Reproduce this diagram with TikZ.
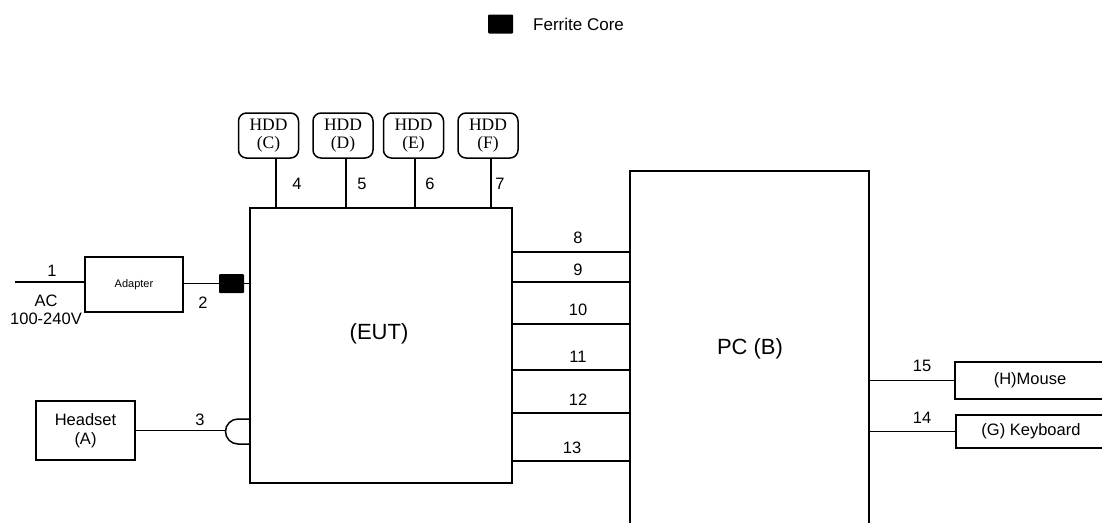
\documentclass[tikz,border=0pt]{standalone}
\usepackage{fontspec}
\setmainfont{Liberation Sans}
\newfontfamily\hddfont{Liberation Serif}

\begin{document}
\begin{tikzpicture}[
    x=1pt, y=-1pt,
    box/.style={
        rectangle,
        draw=black,
        line width=1.5pt,
        fill=white,
        inner sep=0pt,
        align=center,
        font=\fontsize{16.5}{19.5}\selectfont
    },
    hddbox/.style={
        box,
        rounded corners=8pt,
        minimum width=60pt,
        minimum height=45pt,
        font=\hddfont\fontsize{17.5}{18}\selectfont
    },
    ferrite/.style={
        rectangle,
        fill=black,
        inner sep=0pt,
        minimum width=25pt,
        minimum height=19pt,
        rounded corners=1pt
    },
    num/.style={inner sep=0pt, font=\fontsize{16.5}{19}\selectfont},
    big/.style={inner sep=0pt, font=\fontsize{22}{26}\selectfont},
    wire/.style={line width=1.5pt}
]

\useasboundingbox (0,0) rectangle (1102,522);
\clip (0,0) rectangle (1102,522);

% Legend
\node[ferrite] (legend) at (500.5,24) {};
\node[num, anchor=west, font=\fontsize{17}{20}\selectfont] (legendtxt) at (533,24) {Ferrite Core};

% Main units
\node[box, minimum width=262pt, minimum height=275pt] (eut) at (381,345.5) {};
\node[big] (euttxt) at (379,334) {(EUT)};

\node[box, minimum width=239pt, minimum height=389pt] (pc) at (749.5,365.5) {};
\node[big] (pctxt) at (750,349) {PC (B)};

% Left side
\node[box, minimum width=98pt, minimum height=55pt,
      font=\fontsize{11}{13}\selectfont] (adapter) at (134,284.5) {Adapter};
\node[box, minimum width=99pt, minimum height=59pt] (headset) at (85.5,430.5) {Headset\\(A)};
\node[ferrite] (fc) at (231.5,283.5) {};

\coordinate (acin) at (15,282);
\draw[wire] (acin) -- (acin -| adapter.west);
\node[num] (n1) at (52,271) {1};
\node[num] (ac) at (46,301) {AC};
\node[num] (volt) at (46,319) {100-240V};

\draw[wire] (adapter.east |- fc) -- (fc.west);
\draw[wire] (fc.east) -- (fc -| eut.west);
\node[num] (n2) at (203,303) {2};

% Headset jack
\coordinate (jt) at (238,419);
\coordinate (jl) at (225.5,431.5);
\draw[wire] (jt -| eut.west) -- (jt) arc[start angle=90, end angle=270, radius=12.5pt]
    coordinate (jb) -- (jb -| eut.west);
\draw[wire] (headset.east) -- (headset.east -| jl);
\node[num] (n3) at (200,420) {3};

% HDDs
\foreach \name/\x/\lab/\dx/\n/\lx in {hddc/268.5/C/7.5/4/297, hddd/343/D/3/5/362,
                                     hdde/413.5/E/1.5/6/430, hddf/488/F/3/7/500} {
    \node[hddbox] (\name) at (\x,135.5) {HDD\\(\lab)};
    \draw[wire] ([xshift=\dx pt]\name.south) -- ([xshift=\dx pt]\name.south |- eut.north);
    \node[num] (n\n) at (\lx,184) {\n};
}

% EUT to PC
\foreach \y/\n/\lx/\ly in {252/8/578/238, 282/9/578/270, 324/10/578/310,
                           370/11/578/357, 413/12/578/400, 461/13/572/448} {
    \coordinate (l\n) at (0,\y);
    \draw[wire] (eut.east |- l\n) -- (pc.west |- l\n);
    \node[num] (n\n) at (\lx,\ly) {\n};
}

% Right side
\node[box, minimum width=150pt, minimum height=37pt] (mouse) at (1030,380.5) {(H)Mouse};
\node[box, minimum width=150pt, minimum height=33pt] (keyboard) at (1031,431.5) {(G) Keyboard};
\draw[wire] (pc.east |- mouse) -- (mouse.west);
\draw[wire] (pc.east |- keyboard) -- (keyboard.west);
\node[num] (n15) at (922,366) {15};
\node[num] (n14) at (922,418) {14};

\end{tikzpicture}
\end{document}
